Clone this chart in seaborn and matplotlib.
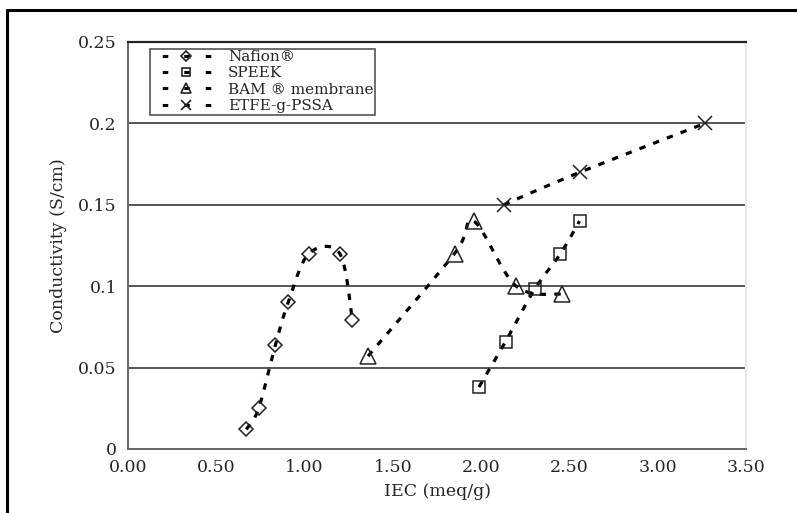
import numpy as np
import seaborn as sns
import matplotlib.pyplot as plt
from matplotlib.lines import Line2D
from matplotlib.patches import Rectangle

# Data
nafion_iec = [0.67, 0.74, 0.835, 0.907, 1.024, 1.199, 1.271]
nafion_cond = [0.012, 0.025, 0.064, 0.090, 0.120, 0.120, 0.079]

speek_iec = [1.987, 2.138, 2.302, 2.449, 2.557]
speek_cond = [0.038, 0.066, 0.098, 0.120, 0.140]

bam_iec = [1.359, 1.849, 1.957, 2.198, 2.459]
bam_cond = [0.057, 0.120, 0.140, 0.100, 0.095]

etfe_iec = [2.127, 2.560, 3.267]
etfe_cond = [0.150, 0.170, 0.200]

x_ticks = [0.0, 0.5, 1.0, 1.5, 2.0, 2.5, 3.0, 3.5]
y_ticks = [0, 0.05, 0.1, 0.15, 0.2, 0.25]
y_tick_labels = ["0", "0.05", "0.1", "0.15", "0.2", "0.25"]


def smooth(xs, ys, n=24):
    # Catmull-Rom curve through the points (like Excel's smoothed line)
    p = np.column_stack([xs, ys])
    p = np.vstack([p[0], p, p[-1]])
    out = []
    for i in range(1, len(p) - 2):
        p0, p1, p2, p3 = p[i - 1], p[i], p[i + 1], p[i + 2]
        t = np.linspace(0, 1, n)[:, None]
        seg = 0.5 * ((2 * p1) + (-p0 + p2) * t + (2 * p0 - 5 * p1 + 4 * p2 - p3) * t ** 2
                     + (-p0 + 3 * p1 - 3 * p2 + p3) * t ** 3)
        out.append(seg if i == 1 else seg[1:])
    out = np.vstack(out)
    return out[:, 0], out[:, 1]


sns.set_style("white")
plt.rcParams["font.family"] = ["DejaVu Serif"]

fig = plt.figure(figsize=(7.97, 5.13), dpi=100)
ax = fig.add_axes([0.1606, 0.1248, 0.7755, 0.7934])

series = [
    ("Nafion\u00ae", nafion_iec, nafion_cond, "D", 7),
    ("SPEEK", speek_iec, speek_cond, "s", 8),
    ("BAM \u00ae membrane", bam_iec, bam_cond, "^", 11),
    ("ETFE-g-PSSA", etfe_iec, etfe_cond, "x", 10),
]

handles = []
for label, xs, ys, mk, ms in series:
    sx, sy = smooth(xs, ys)
    sns.lineplot(x=sx, y=sy, sort=False, ax=ax, color="black", lw=2.3,
                 dashes=False, estimator=None, linestyle=(0, (2, 2.6)), zorder=3)
    ax.plot(xs, ys, linestyle="none", marker=mk, ms=ms, mfc="none",
            mec="#222222", mew=1.1, zorder=4)
    # legend key: "- marker -" with short dashes
    handles.append(Line2D([], [], color="black", lw=2.2, linestyle=(3.68, (1.8, 5.24)),
                          marker=mk, ms=ms * 0.7, mfc="none", mec="#222222", mew=1.2))

ax.set_xlim(0, 3.5)
ax.set_ylim(0, 0.25)
ax.set_xticks(x_ticks)
ax.set_xticklabels([f"{v:.2f}" for v in x_ticks], fontsize=12.5)
ax.set_yticks(y_ticks)
ax.set_yticklabels(y_tick_labels, fontsize=12.5)
ax.yaxis.grid(True, color="#555555", lw=1.4)
ax.xaxis.grid(False)
ax.tick_params(axis="y", direction="out", length=5, width=1.2, color="#666666", pad=3)
ax.tick_params(axis="x", direction="out", length=3, width=1.2, color="#666666", pad=4)

for side in ["left", "bottom"]:
    ax.spines[side].set_color("#666666")
    ax.spines[side].set_linewidth(1.4)
ax.spines["top"].set_color("#222222")
ax.spines["top"].set_linewidth(1.6)
ax.spines["right"].set_color("#e6e6e6")
ax.spines["right"].set_linewidth(1.5)

ax.set_xlabel("IEC (meq/g)", fontsize=12.5, labelpad=5)
ax.set_ylabel("Conductivity (S/cm)", fontsize=12.5, labelpad=8)

leg = ax.legend(handles, [s[0] for s in series], loc="upper left",
                bbox_to_anchor=(0.0356, 0.9835), borderaxespad=0, fontsize=11,
                handlelength=4.5, labelspacing=0.15, handletextpad=0.5,
                borderpad=0.1, fancybox=False, framealpha=1)
leg.get_frame().set_edgecolor("#555555")
leg.get_frame().set_linewidth(1.2)

# outer frame of the chart
fig.patches.append(Rectangle((0.0088, -0.2), 1.5, 1.1805, transform=fig.transFigure,
                             fill=False, lw=2.2, ec="black"))

fig.savefig("out.png", dpi=100)
